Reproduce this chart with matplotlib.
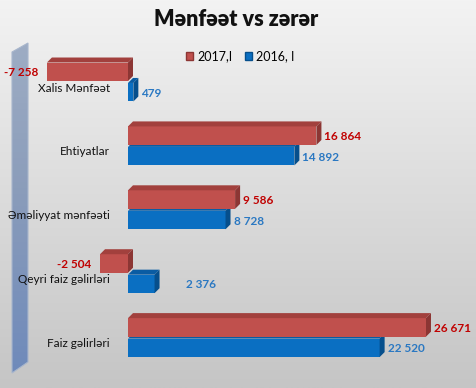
import numpy as np
import matplotlib.pyplot as plt
from matplotlib.patches import Polygon, Patch

plt.rcParams['font.family'] = ['Lato', 'DejaVu Sans']

# --- data ---
categories = ["Xalis Mənfəət", "Ehtiyatlar", "Əməliyyat mənfəəti",
              "Qeyri faiz gəlirləri", "Faiz gəlirləri"]
series_names = ["2017,I", "2016, I"]
values_2017 = [-7258, 16864, 9586, -2504, 26671]
values_2016 = [479, 14892, 8728, 2376, 22520]

# --- layout (pixels) ---
W, H = 476, 388
zero_px = 128                 # x pixel of the value 0
px_per_unit = 298 / 26671     # horizontal scale
row_px = 63.9                 # distance between categories
row0_px = 50.4                # pixel (from bottom) of the lowest category centre
depth_px = 5                  # 3d depth of the bars

red_front, red_top, red_side = '#c0504d', '#a2403d', '#8c3634'
blue_front, blue_top, blue_side = '#0a6fc2', '#0a5ca3', '#064f8c'
red_text, blue_text = '#c00000', '#2a78c2'


def fmt(v):
    return f"{v:,}".replace(",", " ")


fig = plt.figure(figsize=(W / 100, H / 100), dpi=100)

# background gradient
ax_bg = fig.add_axes([0, 0, 1, 1])
grad = np.linspace(0, 1, 256).reshape(-1, 1)
ax_bg.imshow(grad, aspect='auto', extent=(0, 1, 0, 1), origin='upper',
             cmap=plt.matplotlib.colors.LinearSegmentedColormap.from_list(
                 'bg', ['#f3f3f3', '#c5c5c5']))
# axis wall on the left
wall_pts = [(12, 52), (28, 43), (28, 362), (12, 373)]
wall = Polygon([(x / W, 1 - y / H) for x, y in wall_pts], closed=True,
               transform=ax_bg.transAxes, facecolor='none',
               edgecolor='#a8b6cc', lw=0.8)
ax_bg.add_patch(wall)
wall_img = ax_bg.imshow(np.linspace(0, 1, 64).reshape(-1, 1), aspect='auto',
                        extent=(0, 1, 0, 1), origin='upper',
                        cmap=plt.matplotlib.colors.LinearSegmentedColormap.from_list(
                            'wall', ['#a3b1c7', '#8a9cba', '#6d89bb']))
wall_img.set_clip_path(wall)
ax_bg.set_xlim(0, 1)
ax_bg.set_ylim(0, 1)
ax_bg.axis('off')

# main axes covering the whole figure
ax = fig.add_axes([0, 0, 1, 1])
ax.patch.set_alpha(0)
ax.set_xlim(-zero_px / px_per_unit, (W - zero_px) / px_per_unit)
ax.set_ylim(-row0_px / row_px, (H - row0_px) / row_px)
ax.axis('off')

dx = depth_px / px_per_unit
dy = depth_px / row_px
bar_h = 0.29
shift = 0.16


def bar3d(yc, v, front, top, side, z):
    lo, hi = min(0, v), max(0, v)
    y0, y1 = yc - bar_h / 2, yc + bar_h / 2
    ax.barh(yc, v, height=bar_h, color=front, zorder=z)
    ax.add_patch(Polygon([(lo, y1), (hi, y1), (hi + dx, y1 + dy), (lo + dx, y1 + dy)],
                         closed=True, facecolor=top, edgecolor='none', zorder=z))
    ax.add_patch(Polygon([(hi, y0), (hi, y1), (hi + dx, y1 + dy), (hi + dx, y0 + dy)],
                         closed=True, facecolor=side, edgecolor='none', zorder=z))


def value_label(yc, v, color, extra=0):
    if v >= 0:
        ax.annotate(fmt(v), (v + dx, yc), xytext=(3 + extra, -1),
                    textcoords='offset pixels', ha='left', va='center',
                    fontsize=8.5, fontweight='bold', color=color, zorder=10)
    else:
        ax.annotate(fmt(v), (v, yc), xytext=(-9, -1),
                    textcoords='offset pixels', ha='right', va='center',
                    fontsize=8.5, fontweight='bold', color=color, zorder=10)


n = len(categories)
extra_2016 = [0, 0, 0, 23, 0]
for i, cat in enumerate(categories):
    yc = n - 1 - i
    bar3d(yc - shift, values_2016[i], blue_front, blue_top, blue_side, 2 + 2 * i)
    bar3d(yc + shift, values_2017[i], red_front, red_top, red_side, 3 + 2 * i)
    value_label(yc + shift, values_2017[i], red_text)
    value_label(yc - shift, values_2016[i], blue_text, extra_2016[i])
    ax.annotate(cat, (0, yc), xytext=(-18, -6), textcoords='offset pixels',
                ha='right', va='center', fontsize=8.5, color='#111111', zorder=10)

fig.text(236 / W, 1 - 20 / H, "Mənfəət vs zərər", ha='center', va='center',
         fontsize=15.5, fontweight='heavy', color='#111111')

handles = [Patch(facecolor=red_front, edgecolor=red_side, label=series_names[0]),
           Patch(facecolor=blue_front, edgecolor=blue_side, label=series_names[1])]
fig.legend(handles=handles, loc='center', bbox_to_anchor=(240 / W, 1 - 56 / H),
           ncol=2, frameon=False, fontsize=9, handlelength=0.6, handleheight=0.6,
           handletextpad=0.3, columnspacing=1.0)

fig.savefig('out.png', dpi=100)
